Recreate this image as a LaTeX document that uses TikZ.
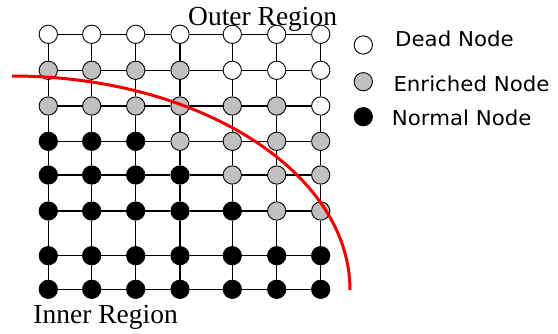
\documentclass[tikz,border=0pt]{standalone}
\usepackage{fontspec}
\setmainfont{Liberation Serif}
\newfontfamily\legendfont[FakeStretch=1.04]{DejaVu Sans}
\definecolor{enrgray}{RGB}{192,192,192}
\definecolor{curvered}{RGB}{240,0,0}
\begin{document}
\begin{tikzpicture}[x=1pt,y=-1pt,
  nd/.style={circle,draw=black,line width=0.9pt,minimum size=18.3pt,inner sep=0pt},
  deadn/.style={nd,fill=white},
  enrn/.style={nd,fill=enrgray},
  normn/.style={nd,fill=black},
  gridline/.style={line width=1.2pt},
  lbl/.style={font=\fontsize{27.5}{30}\selectfont,inner sep=0pt,anchor=base west},
  leg/.style={font=\legendfont\fontsize{20.5}{24}\selectfont,inner sep=0pt,anchor=base west}]
\useasboundingbox (0,0) rectangle (558,333);
\def\xs{{48.3,91.7,135.7,180,232.3,276.7,320.7}}
\foreach \r/\y/\types in {
  0/34.3/{deadn,deadn,deadn,deadn,deadn,deadn,deadn},
  1/70.3/{enrn,enrn,enrn,enrn,deadn,deadn,deadn},
  2/106/{enrn,enrn,enrn,enrn,enrn,enrn,deadn},
  3/141.3/{normn,normn,normn,enrn,enrn,enrn,enrn},
  4/175/{normn,normn,normn,normn,enrn,enrn,enrn},
  5/211/{normn,normn,normn,normn,normn,enrn,enrn},
  6/255.7/{normn,normn,normn,normn,normn,normn,normn},
  7/289.3/{normn,normn,normn,normn,normn,normn,normn}}{
  \foreach \t [count=\c from 0] in \types {
    \pgfmathsetmacro\xx{\xs[\c]}
    \node[\t] (n-\r-\c) at (\xx,\y) {};
  }
}
\foreach \r in {0,...,7}{
  \foreach \c in {0,...,5}{
    \pgfmathtruncatemacro\cc{\c+1}
    \draw[gridline] (n-\r-\c) -- (n-\r-\cc);
  }
}
\foreach \r in {0,...,6}{
  \foreach \c in {0,...,6}{
    \pgfmathtruncatemacro\rr{\r+1}
    \draw[gridline] (n-\r-\c) -- (n-\rr-\c);
  }
}
\draw[curvered,line width=3pt] (350,290) arc[start angle=0,end angle=-90,x radius=338,y radius=214];
\node[lbl] (outer) at (188,25) {Outer Region};
\node[lbl] (inner) at (33.3,323.3) {Inner Region};
\node[deadn] (ldead) at (363.3,45) {};
\node[enrn] (lenr) at (363.3,81.7) {};
\node[normn] (lnorm) at (363.3,116.7) {};
\node[leg] (tdead) at (395,46.7) {Dead Node};
\node[leg] (tenr) at (393.3,91.7) {Enriched Node};
\node[leg] (tnorm) at (391.7,125) {Normal Node};
\end{tikzpicture}
\end{document}
